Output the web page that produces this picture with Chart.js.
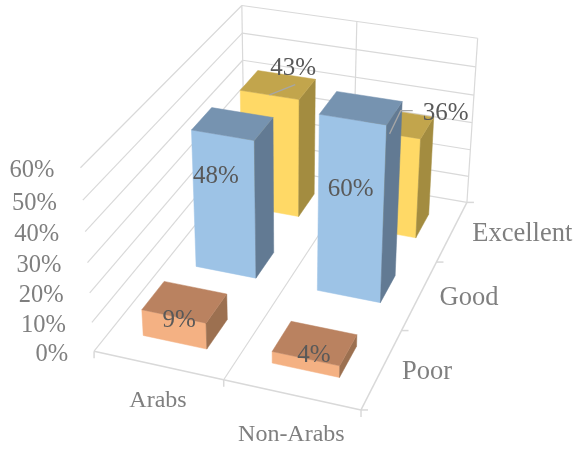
<!DOCTYPE html>
<html><head><meta charset="utf-8">
<style>html,body{margin:0;padding:0;background:#fff}canvas{display:block}</style>
<script src="https://cdn.jsdelivr.net/npm/chart.js@4/dist/chart.umd.js"></script>
</head><body><canvas id="c" width="580" height="455"></canvas>
<script>
const categories = ['Arabs', 'Non-Arabs'];
const ratings = ['Poor', 'Good', 'Excellent'];
const poorValues = [9, 4];
const goodValues = [48, 60];
const excellentValues = [43, 36];
const valueMin = 0, valueMax = 60, valueStep = 10;

// camera calibration: world (across, depth, height; each 0..1) -> screen
const calibration = [
  [0,0,0,94,351],[1,0,0,360,409],[1,1,0,466,202],[0,1,0,245,164],
  [0,0,1,81,168],[1,1,1,478,38],[0,1,1,241,5],
  [0,0,.5,87.5,262],[1,1,.5,472,123],[0,1,.5,243,87],
  [1,1/3,0,403,331],[1,2/3,0,437,262],[.5,0,0,223,381],[.5,1,1,357,22]
];
function solveCamera(pts){
  const A=[],b=[],S=500;
  for(const [u,v,w,x0,y0] of pts){
    const x=x0/S,y=y0/S;
    A.push([u,v,w,1,0,0,0,0,-x*u,-x*v,-x*w]);b.push(x);
    A.push([0,0,0,0,u,v,w,1,-y*u,-y*v,-y*w]);b.push(y);
  }
  const n=11,M=[];
  for(let i=0;i<n;i++){M[i]=[];for(let j=0;j<=n;j++){let s=0;
    for(let k=0;k<A.length;k++)s+=A[k][i]*(j<n?A[k][j]:b[k]);M[i][j]=s;}}
  for(let i=0;i<n;i++){let p=i;for(let r=i+1;r<n;r++)if(Math.abs(M[r][i])>Math.abs(M[p][i]))p=r;
    [M[i],M[p]]=[M[p],M[i]];
    for(let r=0;r<n;r++){if(r===i)continue;const f=M[r][i]/M[i][i];for(let c=i;c<=n;c++)M[r][c]-=f*M[i][c];}}
  const h=M.map((r,i)=>r[n]/r[i]);
  return (u,v,w)=>{const d=h[8]*u+h[9]*v+h[10]*w+1;
    return [S*(h[0]*u+h[1]*v+h[2]*w+h[3])/d,S*(h[4]*u+h[5]*v+h[6]*w+h[7])/d];};
}
const project = solveCamera(calibration);

const GRID='#D9D9D9', AXIS_TEXT='#7F7F7F', LABEL_TEXT='#595959', LEADER='#A6A6A6';
const SERIF='"Liberation Serif"';
const barDepth = 0.40;
const categoryLabelDrop = [35, 40];

// label placement relative to the projected centre of each box
const labelPlacement = [
  [{dx:-6,dy:6},{dx:-1,dy:7}],
  [{dx:-18,dy:-17},{dx:-8,dy:-9}],
  [{dx:15,dy:-75,leader:[[2,16]]},{dx:51,dy:-59,leader:[[-45,-3],[-33,-3]]}]
];

function fracX(chart,px){const a=chart.chartArea;return (px-a.left)/a.width;}
function fracY(chart,py){const a=chart.chartArea;return (a.bottom-py)/a.height;}

function boxOf(chart,el,dsIndex){
  const ds=chart.scales.depth;
  const vc=fracX(chart,ds.getPixelForValue(dsIndex));
  const dv=barDepth*(1/ratings.length);
  return {u0:fracX(chart,el.x-el.width/2),u1:fracX(chart,el.x+el.width/2),
    v0:vc-dv/2,v1:vc+dv/2,w0:fracY(chart,el.base),w1:fracY(chart,el.y)};
}
function poly(ctx,pts,color){
  ctx.beginPath();pts.forEach((p,i)=>i?ctx.lineTo(p[0],p[1]):ctx.moveTo(p[0],p[1]));ctx.closePath();
  ctx.fillStyle=color;ctx.strokeStyle=color;ctx.lineWidth=.5;ctx.fill();ctx.stroke();
}

class Bar3DController extends Chart.BarController {
  draw(){
    const chart=this.chart,ctx=chart.ctx,meta=this._cachedMeta,d=this.getDataset();
    meta.data.forEach(el=>{
      const b=boxOf(chart,el,meta.index);
      const P=(u,v,w)=>project(u,v,w);
      poly(ctx,[P(b.u0,b.v0,b.w0),P(b.u1,b.v0,b.w0),P(b.u1,b.v0,b.w1),P(b.u0,b.v0,b.w1)],d.backgroundColor);
      poly(ctx,[P(b.u1,b.v0,b.w0),P(b.u1,b.v1,b.w0),P(b.u1,b.v1,b.w1),P(b.u1,b.v0,b.w1)],d.sideColor);
      poly(ctx,[P(b.u0,b.v0,b.w1),P(b.u1,b.v0,b.w1),P(b.u1,b.v1,b.w1),P(b.u0,b.v1,b.w1)],d.topColor);
    });
  }
}
Bar3DController.id='bar3d';
Chart.register(Bar3DController);

function seg(ctx,a,b){ctx.beginPath();ctx.moveTo(a[0],a[1]);ctx.lineTo(b[0],b[1]);ctx.stroke();}

const wallsAndAxes={id:'wallsAndAxes',beforeDatasetsDraw(chart){
  const ctx=chart.ctx,y=chart.scales.y,x=chart.scales.x,ds=chart.scales.depth;
  ctx.save();ctx.strokeStyle=GRID;ctx.lineWidth=1.2;
  y.ticks.forEach(t=>{const w=fracY(chart,y.getPixelForValue(t.value));
    seg(ctx,project(0,0,w),project(0,1,w));seg(ctx,project(0,1,w),project(1,1,w));});
  [0,.5,1].forEach(u=>seg(ctx,project(u,1,0),project(u,1,1)));
  ctx.lineWidth=1.5;
  seg(ctx,project(0,0,0),project(1,0,0));seg(ctx,project(1,0,0),project(1,1,0));
  ctx.lineWidth=1.2;seg(ctx,project(.5,0,0),project(.5,1,0));
  ctx.lineWidth=1.5;
  [0,.5,1].forEach(u=>{const p=project(u,0,0);seg(ctx,p,[p[0],p[1]+7]);});
  [0,1/3,2/3,1].forEach(v=>{const p=project(1,v,0);seg(ctx,p,[p[0]+7,p[1]]);});

  ctx.fillStyle=AXIS_TEXT;ctx.textBaseline='middle';
  ctx.font='24.5px '+SERIF;ctx.textAlign='right';
  y.ticks.forEach(t=>{const w=fracY(chart,y.getPixelForValue(t.value));const p=project(0,0,w);
    ctx.fillText(t.label,p[0]-26,p[1]+3);});
  ctx.font='24px '+SERIF;ctx.textAlign='center';
  x.getLabels().forEach((l,i)=>{const p=project(fracX(chart,x.getPixelForValue(i)),0,0);
    ctx.fillText(l,p[0],p[1]+categoryLabelDrop[i]);});
  ctx.font='26.5px '+SERIF;ctx.textAlign='left';
  ds.getLabels().forEach((l,i)=>{const p=project(1,fracX(chart,ds.getPixelForValue(i)),0);
    ctx.fillText(l,p[0]+20,p[1]+3);});
  ctx.restore();
}};
const dataLabels={id:'dataLabels3d',afterDatasetsDraw(chart){
  const ctx=chart.ctx;ctx.save();ctx.textAlign='center';ctx.textBaseline='middle';
  ctx.font='25px '+SERIF;
  chart.data.datasets.forEach((d,di)=>{
    chart.getDatasetMeta(di).data.forEach((el,i)=>{
      const b=boxOf(chart,el,di),um=(b.u0+b.u1)/2,vm=(b.v0+b.v1)/2;
      const c=project(um,vm,(b.w0+b.w1)/2),pl=labelPlacement[di][i];
      const lx=c[0]+pl.dx,ly=c[1]+pl.dy;
      if(pl.leader){ctx.strokeStyle=LEADER;ctx.lineWidth=1.3;ctx.beginPath();
        const s=project(um,b.v0,b.w1);ctx.moveTo(s[0],s[1]);
        pl.leader.forEach(q=>ctx.lineTo(lx+q[0],ly+q[1]));ctx.stroke();}
      ctx.fillStyle=LABEL_TEXT;ctx.fillText(d.data[i]+'%',lx,ly);
    });
  });
  ctx.restore();
}};

new Chart(document.getElementById('c'),{
  type:'bar3d',
  data:{labels:categories,datasets:[
    {label:ratings[0],data:poorValues,backgroundColor:'#F4B183',topColor:'#BA8260',sideColor:'#9C7050'},
    {label:ratings[1],data:goodValues,backgroundColor:'#9DC3E6',topColor:'#7693B0',sideColor:'#627A93'},
    {label:ratings[2],data:excellentValues,backgroundColor:'#FFD966',topColor:'#C2A54C',sideColor:'#A38C40'}
  ]},
  options:{responsive:false,animation:false,
    plugins:{legend:{display:false},tooltip:{enabled:false}},
    datasets:{bar3d:{grouped:false,barPercentage:.5,categoryPercentage:1}},
    scales:{
      x:{display:false,type:'category',offset:true,ticks:{autoSkip:false}},
      y:{display:false,min:valueMin,max:valueMax,ticks:{stepSize:valueStep,callback:v=>v+'%'}},
      depth:{display:false,axis:'x',type:'category',labels:ratings,offset:true,ticks:{autoSkip:false}}
    }},
  plugins:[wallsAndAxes,dataLabels]
});
</script></body></html>
